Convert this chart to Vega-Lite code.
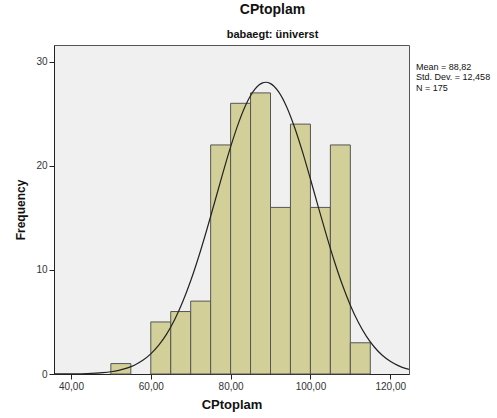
{
  "$schema": "https://vega.github.io/schema/vega-lite/v6.json",
  "width": 355,
  "height": 329,
  "autosize": {"type": "none"},
  "padding": {"left": 54, "top": 45, "right": 88, "bottom": 44},
  "background": "white",
  "config": {
    "font": "Liberation Sans",
    "view": {"fill": "#f0f0f0", "stroke": "#555555", "strokeWidth": 1},
    "axis": {"grid": false, "domainColor": "#222222", "tickColor": "#222222", "labelColor": "#333333", "labelFontSize": 10, "labelFont": "Liberation Sans", "titleFont": "Liberation Sans", "titleFontWeight": "bold", "titleColor": "#111111"}
  },
  "title": {
    "text": "CPtoplam",
    "subtitle": "babaegt: üniverst",
    "anchor": "middle",
    "dx": 41,
    "fontSize": 14,
    "fontWeight": "bold",
    "color": "#111111",
    "subtitleFontSize": 11,
    "subtitleFontWeight": "bold",
    "subtitleColor": "#111111",
    "subtitlePadding": 12,
    "offset": 5
  },
  "datasets": {
    "bins": [
      {"bin_start": 50, "bin_end": 55, "count": 1},
      {"bin_start": 60, "bin_end": 65, "count": 5},
      {"bin_start": 65, "bin_end": 70, "count": 6},
      {"bin_start": 70, "bin_end": 75, "count": 7},
      {"bin_start": 75, "bin_end": 80, "count": 22},
      {"bin_start": 80, "bin_end": 85, "count": 26},
      {"bin_start": 85, "bin_end": 90, "count": 27},
      {"bin_start": 90, "bin_end": 95, "count": 16},
      {"bin_start": 95, "bin_end": 100, "count": 24},
      {"bin_start": 100, "bin_end": 105, "count": 16},
      {"bin_start": 105, "bin_end": 110, "count": 22},
      {"bin_start": 110, "bin_end": 115, "count": 3}
    ],
    "curve": [
      {"x": 35.75, "y": 0.003},
      {"x": 40, "y": 0.013},
      {"x": 44, "y": 0.043},
      {"x": 48, "y": 0.131},
      {"x": 50, "y": 0.218},
      {"x": 52, "y": 0.356},
      {"x": 54, "y": 0.564},
      {"x": 56, "y": 0.872},
      {"x": 58, "y": 1.314},
      {"x": 60, "y": 1.929},
      {"x": 62, "y": 2.762},
      {"x": 64, "y": 3.851},
      {"x": 66, "y": 5.234},
      {"x": 68, "y": 6.935},
      {"x": 70, "y": 8.953},
      {"x": 72, "y": 11.26},
      {"x": 74, "y": 13.81},
      {"x": 76, "y": 16.5},
      {"x": 78, "y": 19.22},
      {"x": 80, "y": 21.81},
      {"x": 82, "y": 24.12},
      {"x": 84, "y": 26.0},
      {"x": 86, "y": 27.31},
      {"x": 88, "y": 27.96},
      {"x": 88.82, "y": 28.02},
      {"x": 90, "y": 27.89},
      {"x": 92, "y": 27.12},
      {"x": 94, "y": 25.7},
      {"x": 96, "y": 23.73},
      {"x": 98, "y": 21.36},
      {"x": 100, "y": 18.73},
      {"x": 102, "y": 16.01},
      {"x": 104, "y": 13.34},
      {"x": 106, "y": 10.83},
      {"x": 108, "y": 8.566},
      {"x": 110, "y": 6.604},
      {"x": 112, "y": 4.962},
      {"x": 114, "y": 3.634},
      {"x": 116, "y": 2.594},
      {"x": 118, "y": 1.803},
      {"x": 120, "y": 1.223},
      {"x": 122, "y": 0.807},
      {"x": 124, "y": 0.52},
      {"x": 124.7, "y": 0.45}
    ],
    "stats": [
      {"x": 124.7, "y": 29.9, "label": ["Mean = 88,82", "Std. Dev. = 12,458", "N = 175"]}
    ]
  },
  "layer": [
    {
      "data": {"name": "bins"},
      "mark": {"type": "rect", "fill": "#d3cf98", "stroke": "#555555", "strokeWidth": 1},
      "encoding": {
        "x": {
          "field": "bin_start", "type": "quantitative",
          "scale": {"domain": [35.75, 124.7], "nice": false, "zero": false},
          "axis": {"values": [40, 60, 80, 100, 120], "labelExpr": "replace(format(datum.value, '.2f'), '.', ',')", "title": "CPtoplam", "titleFontSize": 13, "titlePadding": 7, "tickSize": 5, "labelPadding": 2}
        },
        "x2": {"field": "bin_end"},
        "y": {
          "field": "count", "type": "quantitative",
          "scale": {"domain": [0, 31.6], "nice": false},
          "axis": {"values": [0, 10, 20, 30], "title": "Frequency", "titleFontSize": 12, "titlePadding": 8, "tickSize": 5, "labelPadding": 2}
        },
        "y2": {"datum": 0}
      }
    },
    {
      "data": {"name": "curve"},
      "mark": {"type": "line", "color": "#222222", "strokeWidth": 1.2, "interpolate": "monotone", "clip": true},
      "encoding": {
        "x": {"field": "x", "type": "quantitative"},
        "y": {"field": "y", "type": "quantitative"}
      }
    },
    {
      "data": {"name": "stats"},
      "mark": {"type": "text", "align": "left", "baseline": "top", "dx": 7, "fontSize": 9, "lineHeight": 10.5, "color": "#111111"},
      "encoding": {
        "x": {"field": "x", "type": "quantitative"},
        "y": {"field": "y", "type": "quantitative"},
        "text": {"field": "label"}
      }
    }
  ]
}
